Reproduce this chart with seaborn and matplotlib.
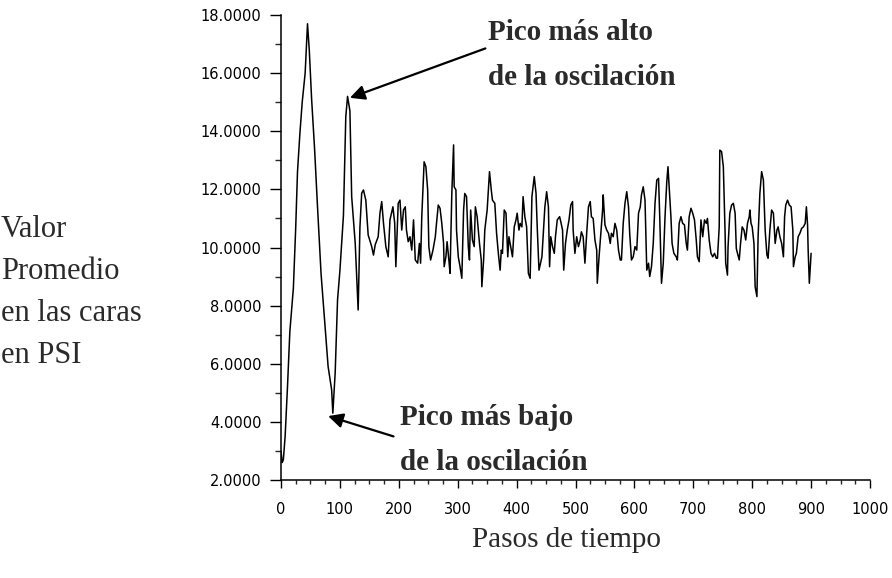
import matplotlib
matplotlib.use("Agg")
import matplotlib.pyplot as plt
from matplotlib.ticker import MultipleLocator, FormatStrFormatter
import seaborn as sns
import pandas as pd

# Time steps and mean face value (PSI)
steps = [
    0, 2, 4, 7, 11, 15, 21, 25, 28, 32, 36, 41, 45, 48, 52, 57, 62, 68, 74, 80,
    86, 88, 92, 96, 100, 106, 110, 113, 117, 120, 126, 131, 134, 137, 140, 144,
    148, 154, 157, 160, 165, 168, 171, 174, 178, 182, 185, 190, 193, 195, 199,
    202, 205, 208, 211, 213, 216, 219, 222, 225, 228, 232, 235, 237, 239, 243,
    246, 249, 251, 254, 258, 262, 264, 267, 270, 273, 276, 277, 280, 282, 285,
    287, 290, 293, 294, 297, 298, 301, 304, 307, 310, 312, 315, 318, 320, 322,
    325, 328, 330, 333, 337, 340, 341, 344, 346, 350, 354, 357, 359, 363, 366,
    369, 372, 374, 376, 379, 382, 385, 387, 390, 393, 396, 399, 401, 404, 406,
    409, 411, 414, 417, 420, 423, 426, 430, 433, 435, 438, 443, 445, 448, 451,
    454, 456, 458, 461, 464, 466, 469, 473, 475, 478, 480, 483, 486, 489, 492,
    495, 496, 499, 502, 505, 508, 510, 513, 516, 519, 522, 525, 527, 530, 533,
    536, 537, 540, 543, 546, 547, 550, 553, 556, 559, 561, 564, 567, 570, 573,
    576, 578, 581, 584, 587, 590, 592, 595, 598, 601, 604, 607, 610, 612, 615,
    618, 621, 624, 626, 629, 632, 635, 638, 641, 643, 646, 649, 652, 655, 657,
    659, 662, 664, 667, 671, 673, 676, 679, 682, 685, 688, 690, 693, 696, 699,
    702, 705, 707, 710, 713, 716, 719, 722, 724, 727, 730, 733, 736, 739, 741,
    744, 745, 748, 751, 754, 755, 758, 759, 762, 765, 768, 771, 773, 775, 778,
    780, 783, 786, 789, 792, 795, 796, 798, 800, 803, 805, 808, 810, 813, 816,
    819, 822, 825, 827, 830, 833, 836, 839, 842, 844, 847, 850, 853, 855, 857,
    860, 863, 866, 869, 870, 873, 875, 878, 881, 884, 887, 890, 892, 894, 895,
    897, 900,
]
promedio = [
    3.0, 2.6, 2.7, 3.5, 5.2, 7.1, 8.6, 10.7, 12.6, 13.9, 15.0, 16.0, 17.7, 16.8,
    15.1, 13.4, 11.4, 9.1, 7.5, 5.9, 5.1, 4.3, 5.7, 8.2, 9.2, 11.1, 14.5, 15.2,
    14.7, 11.75, 10.15, 7.85, 10.7, 11.87, 11.98, 11.63, 10.43, 10.03, 9.74,
    10.1, 10.37, 11.18, 11.58, 10.84, 10.03, 9.68, 10.95, 11.4, 10.84, 9.34,
    11.52, 11.63, 10.6, 11.29, 11.4, 10.6, 10.2, 10.37, 9.91, 10.95, 9.57, 9.46,
    10.14, 9.46, 11.06, 12.95, 12.78, 11.98, 10.03, 9.57, 9.91, 10.37, 10.83,
    11.46, 11.35, 10.83, 10.14, 9.34, 9.68, 10.2, 9.57, 9.11, 11.86, 13.53,
    12.09, 11.98, 10.6, 9.68, 9.34, 8.94, 11.29, 11.86, 11.75, 10.03, 9.57,
    11.29, 10.26, 10.03, 11.4, 11.06, 10.14, 9.57, 8.65, 9.57, 10.6, 11.29,
    12.61, 11.98, 11.63, 11.52, 10.49, 9.8, 9.22, 9.91, 9.8, 11.29, 11.18, 9.68,
    10.37, 10.03, 9.68, 10.71, 10.95, 11.18, 10.6, 10.83, 10.71, 11.75, 11.06,
    10.71, 9.11, 8.94, 11.75, 12.44, 11.86, 10.71, 9.22, 9.68, 10.37, 11.4,
    11.92, 11.4, 9.34, 10.37, 10.03, 9.8, 10.37, 10.95, 11.06, 10.89, 10.6,
    9.22, 10.14, 10.6, 10.95, 11.46, 11.58, 10.6, 9.8, 10.37, 10.03, 10.26,
    10.54, 10.37, 9.46, 10.49, 11.4, 11.58, 11.06, 11.0, 10.26, 9.91, 8.77,
    9.68, 10.49, 11.29, 11.81, 10.78, 10.6, 10.49, 10.14, 10.49, 10.37, 10.83,
    10.6, 9.91, 9.57, 9.57, 10.83, 11.52, 11.92, 11.4, 10.49, 9.57, 9.68, 10.03,
    9.91, 11.18, 11.4, 11.81, 12.09, 11.63, 9.22, 9.46, 9.0, 9.34, 10.14, 11.52,
    12.32, 12.38, 11.06, 8.77, 9.46, 11.06, 12.27, 12.78, 12.09, 11.06, 10.14,
    9.8, 9.68, 9.57, 10.83, 11.06, 10.83, 10.78, 10.14, 9.91, 11.06, 11.35,
    11.18, 10.95, 10.26, 9.68, 9.51, 10.95, 10.37, 10.95, 10.83, 11.0, 10.26,
    9.8, 9.68, 9.8, 9.63, 9.63, 10.71, 13.35, 13.3, 12.78, 10.49, 9.46, 9.05,
    10.03, 11.18, 11.46, 11.52, 11.18, 9.97, 9.8, 9.57, 10.09, 10.71, 10.6,
    10.26, 10.83, 11.06, 11.29, 10.83, 10.71, 10.14, 8.65, 8.31, 10.37, 11.86,
    12.61, 12.32, 10.6, 9.74, 9.63, 10.6, 11.29, 11.18, 10.14, 10.6, 10.71,
    10.37, 10.14, 9.68, 11.06, 11.46, 11.63, 11.46, 11.4, 10.6, 9.34, 9.68, 9.8,
    10.37, 10.49, 10.66, 10.71, 10.83, 11.4, 10.78, 9.91, 8.77, 9.8,
]

x_ticks = [0, 100, 200, 300, 400, 500, 600, 700, 800, 900, 1000]
y_ticks = [2, 4, 6, 8, 10, 12, 14, 16, 18]

ylabel_lines = ["Valor", "Promedio", "en las caras", "en PSI"]
xlabel_text = "Pasos de tiempo"
note_high = ["Pico más alto", "de la oscilación"]
note_low = ["Pico más bajo", "de la oscilación"]

sns.set_theme(style="ticks")
plt.rcParams["font.family"] = ["DejaVu Sans"]

df = pd.DataFrame({"paso": steps, "valor": promedio})

W, H = 892, 578
fig = plt.figure(figsize=(W / 100, H / 100), dpi=100)
ax = fig.add_axes([281 / W, 1 - 480 / H, 589 / W, 465 / H])

sns.lineplot(data=df, x="paso", y="valor", ax=ax, color="black",
             linewidth=1.1, estimator=None, sort=False)

ax.set_xlim(0, 1000)
ax.set_ylim(2, 18)
ax.set_xticks(x_ticks)
ax.set_yticks(y_ticks)
ax.xaxis.set_minor_locator(MultipleLocator(25))
ax.yaxis.set_minor_locator(MultipleLocator(1))
ax.yaxis.set_major_formatter(FormatStrFormatter("%.4f"))
ax.set_xlabel("")
ax.set_ylabel("")

for side in ("top", "right"):
    ax.spines[side].set_visible(False)
for side in ("left", "bottom"):
    ax.spines[side].set_linewidth(1.1)
    ax.spines[side].set_color("black")

ax.tick_params(axis="y", which="major", length=8, width=1.0, pad=6,
               labelsize=10.5, colors="black", direction="out")
ax.tick_params(axis="y", which="minor", length=4.5, width=1.0, direction="out")
ax.tick_params(axis="x", which="major", length=5.5, width=1.0, pad=10,
               labelsize=10.5, colors="black", direction="out")
ax.tick_params(axis="x", which="minor", length=3, width=1.0, direction="out")

serif = ["Liberation Serif", "DejaVu Serif"]
text_color = "#2a2a2a"

# Left-side axis caption, one line at a time (baselines in pixels)
for line, base in zip(ylabel_lines, [237, 279, 321, 363]):
    fig.text(1 / W, 1 - base / H, line, ha="left", va="baseline",
             fontsize=22, family=serif, color=text_color)

# Bottom axis caption
fig.text(566 / W, 1 - 540 / H, xlabel_text, ha="center", va="center",
         fontsize=21, family=serif, color=text_color)

arrow = dict(arrowstyle="-|>", color="black", lw=1.6, mutation_scale=22,
             shrinkA=0, shrinkB=0)
ax.annotate("", xy=(117, 15.15), xytext=(347, 16.85), arrowprops=arrow)
ax.annotate("", xy=(80, 4.2), xytext=(191, 3.5), arrowprops=arrow)

# Peak notes, placed by pixel baselines
for lines, x0, bases in [(note_high, 488, [40, 85]), (note_low, 400, [425, 470])]:
    for line, base in zip(lines, bases):
        fig.text(x0 / W, 1 - base / H, line, ha="left", va="baseline",
                 fontsize=21, fontweight="bold", family=serif,
                 color=text_color)

fig.savefig("out.png", dpi=100, facecolor="white")
